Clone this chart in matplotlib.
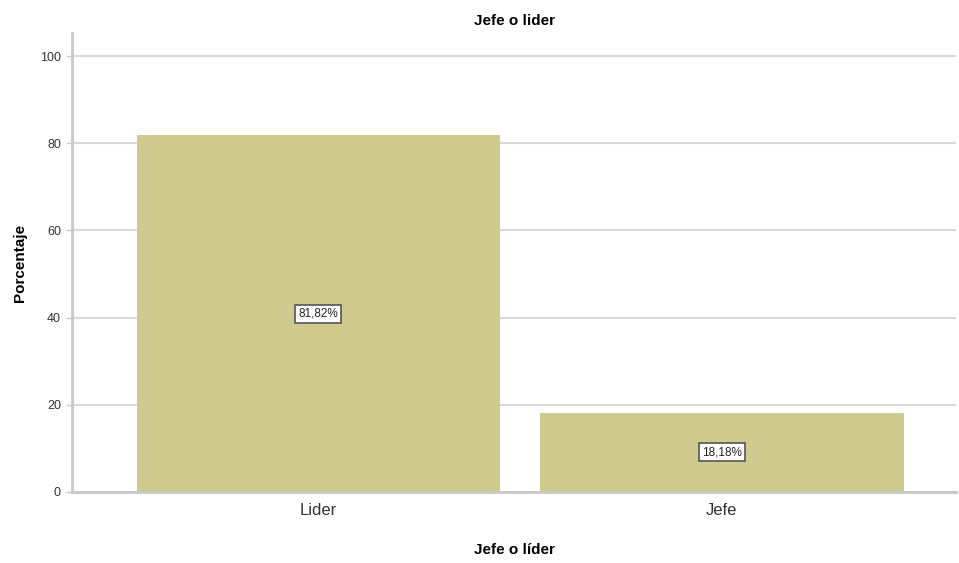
import numpy as np
import matplotlib.pyplot as plt

categories = ["Lider", "Jefe"]
percentages = [81.82, 18.18]
value_labels = ["81,82%", "18,18%"]
y_ticks = [0, 20, 40, 60, 80, 100]

plt.rcParams["font.family"] = ["Liberation Sans", "DejaVu Sans"]

fig = plt.figure(figsize=(9.59, 5.63), dpi=100)
ax = fig.add_axes([72 / 959, 71 / 563, 884 / 959, 459 / 563])

x = np.arange(len(categories))
bars = ax.bar(x, percentages, width=0.9, color="#cfca8d", zorder=2)

for bar, val, txt in zip(bars, percentages, value_labels):
    ax.text(bar.get_x() + bar.get_width() / 2, val / 2, txt,
            ha="center", va="center", fontsize=8.5, color="#222222", zorder=3,
            bbox=dict(boxstyle="square,pad=0.25", fc="white", ec="#555555", lw=1.2))

ax.set_xlim(-0.61, 1.58)
ax.set_ylim(0, 105.3)
ax.set_xticks(x)
ax.set_xticklabels(categories, fontsize=12, color="#333333")
ax.set_yticks(y_ticks)
ax.set_yticklabels([str(t) for t in y_ticks], fontsize=9, color="#333333")
ax.tick_params(axis="x", length=0, pad=8)
ax.tick_params(axis="y", length=4, width=1, color="#c8c8c8", pad=4)

ax.yaxis.grid(True, color="#d9d9d9", lw=1.5, zorder=1)
ax.set_axisbelow(True)

for side in ("top", "right"):
    ax.spines[side].set_visible(False)
for side in ("left", "bottom"):
    ax.spines[side].set_color("#c8c8c8")
    ax.spines[side].set_linewidth(2)

ax.set_title("Jefe o lider", fontsize=11, fontweight="bold", pad=6)
ax.set_xlabel("Jefe o líder", fontsize=11, fontweight="bold", labelpad=18)
ax.set_ylabel("Porcentaje", fontsize=11, fontweight="bold", labelpad=9)

fig.savefig("out.png", dpi=100)
